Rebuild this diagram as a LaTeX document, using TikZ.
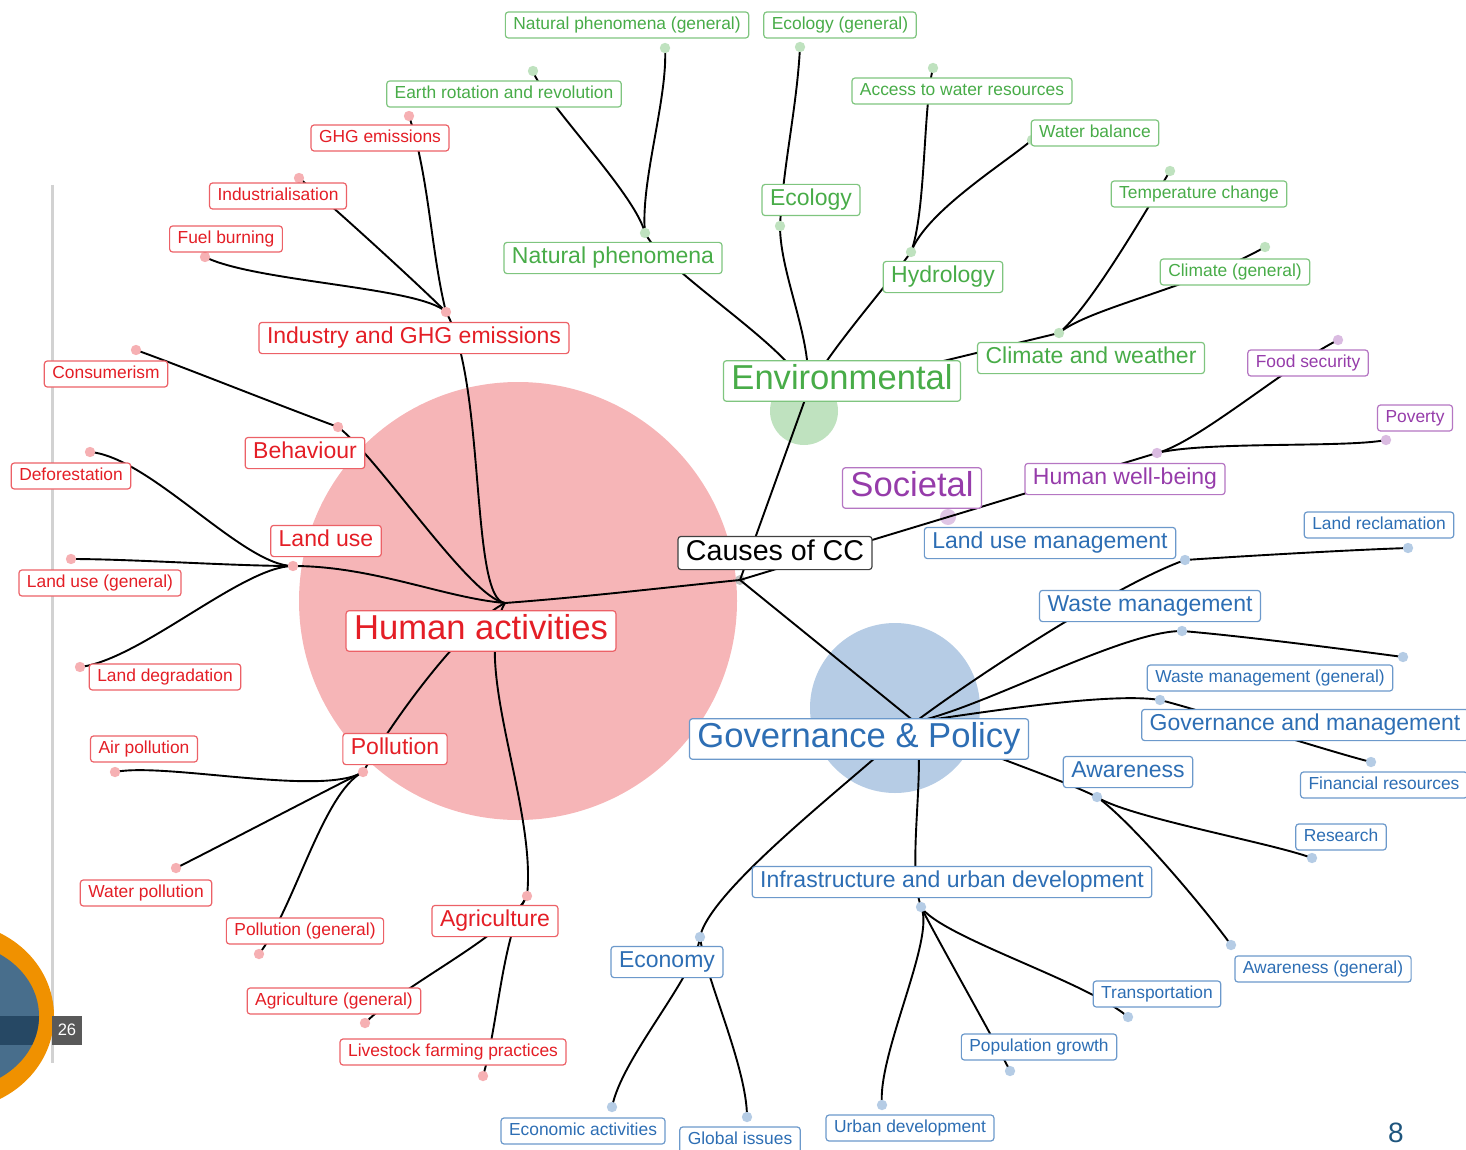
\documentclass[tikz,border=0pt]{standalone}
\usepackage{fontspec}
\setmainfont{Liberation Sans}
\usetikzlibrary{positioning}

\definecolor{hared}{RGB}{228,30,38}
\definecolor{envgreen}{RGB}{72,172,72}
\definecolor{socpurple}{RGB}{150,60,170}
\definecolor{govblue}{RGB}{45,110,180}
\definecolor{slideorange}{RGB}{240,145,0}
\definecolor{slideblue}{RGB}{72,110,140}
\definecolor{slidedark}{RGB}{38,72,100}
\definecolor{pagenum}{RGB}{30,85,125}

\begin{document}
\begin{tikzpicture}[x=0.5pt,y=-0.5pt,
  tag/.style={draw=#1!70,text=#1,fill=white,rounded corners=1.5pt,line width=0.6pt,inner xsep=4pt},
  leaf/.style={tag=#1,font=\fontsize{8.7}{10}\selectfont,text height=6.3pt,text depth=1.9pt,inner ysep=2.4pt},
  branch/.style={tag=#1,font=\fontsize{11.5}{13}\selectfont,text height=8.3pt,text depth=2.5pt,inner ysep=2.4pt},
  theme/.style={tag=#1,font=\fontsize{17.3}{20}\selectfont,text height=12.5pt,text depth=3.8pt,inner ysep=2pt},
  link/.style={draw=black,line width=0.95pt},
  blob/.style={fill=#1!35}]
\useasboundingbox (0,0) rectangle (1466,1150);

% slide leftovers
\draw[gray!35,line width=1.5pt] (52,185) -- (52,1063);
\fill[slideorange] (-48,1016) ellipse[x radius=51pt,y radius=47pt];
\begin{scope}
  \clip (-48,1016) ellipse[x radius=43.5pt,y radius=37pt];
  \fill[slideblue] (-150,900) rectangle (60,1120);
  \fill[slidedark] (-150,1016) rectangle (60,1045);
\end{scope}
\node (slideno) [fill=black!65,text=white,font=\fontsize{8.3}{10}\selectfont,minimum width=15pt,minimum height=14.5pt,inner sep=0pt] at (67,1030) {26};
\node (pageno) [text=pagenum,font=\fontsize{14}{16}\selectfont,inner sep=0pt] at (1396,1133) {8};

% points of the tree
\coordinate (root) at (740,580);
\coordinate (hadot) at (505,603);
\coordinate (inddot) at (446,312);
\coordinate (ghgdot) at (409,116);
\coordinate (indzdot) at (299,178);
\coordinate (fueldot) at (205,257);
\coordinate (behdot) at (338,427);
\coordinate (consdot) at (136,350);
\coordinate (ludot) at (293,566);
\coordinate (defdot) at (90,452);
\coordinate (lugdot) at (71,559);
\coordinate (lddot) at (80,667);
\coordinate (poldot) at (363,772);
\coordinate (airdot) at (115,772);
\coordinate (waterdot) at (176,868);
\coordinate (polgdot) at (259,954);
\coordinate (agrdot) at (527,896);
\coordinate (agrgdot) at (365,1023);
\coordinate (livedot) at (483,1076);
\coordinate (envdot) at (807,394);
\coordinate (npdot) at (645,233);
\coordinate (earthdot) at (533,71);
\coordinate (npgdot) at (665,48);
\coordinate (ecodot) at (780,226);
\coordinate (ecogdot) at (800,47);
\coordinate (hyddot) at (911,252);
\coordinate (accdot) at (933,68);
\coordinate (wbdot) at (1032,140);
\coordinate (cwdot) at (1059,333);
\coordinate (tempdot) at (1170,171);
\coordinate (climgdot) at (1265,247);
\coordinate (socdot) at (948,517);
\coordinate (hwbdot) at (1157,453);
\coordinate (fooddot) at (1338,340);
\coordinate (povdot) at (1386,440);
\coordinate (govdot) at (915,722);
\coordinate (lumdot) at (1185,560);
\coordinate (lrdot) at (1408,548);
\coordinate (wmdot) at (1182,631);
\coordinate (wmgdot) at (1403,657);
\coordinate (gmdot) at (1160,700);
\coordinate (findot) at (1371,762);
\coordinate (awdot) at (1097,797);
\coordinate (resdot) at (1312,858);
\coordinate (awgdot) at (1231,945);
\coordinate (infdot) at (921,907);
\coordinate (trdot) at (1128,1017);
\coordinate (pgdot) at (1010,1071);
\coordinate (uddot) at (882,1105);
\coordinate (econdot) at (700,937);
\coordinate (eadot) at (612,1107);
\coordinate (gidot) at (747,1117);

% big circles
\fill[hared!33] (518,601) circle[radius=109.5pt];
\fill[envgreen!35] (804,411) circle[radius=17pt];
\fill[govblue!35] (895,708) circle[radius=42.5pt];
\fill[socpurple!30] (socdot) circle[radius=4pt];
\fill[black!25] (root) circle[radius=2.5pt];

% links
\draw[link] (root) -- (envdot);
\draw[link] (root) -- (socdot);
\draw[link] (root) -- (govdot);
\draw[link] (root) .. controls +(-80,8) and +(80,-6) .. (hadot);

\draw[link] (hadot) .. controls +(-35,-3) and +(40,70) .. (inddot);
\draw[link] (inddot) .. controls +(-15,-60) and +(20,60) .. (ghgdot);
\draw[link] (inddot) .. controls +(-30,-30) and +(30,25) .. (indzdot);
\draw[link] (inddot) .. controls +(-25,-25) and +(50,25) .. (fueldot);
\draw[link] (hadot) .. controls +(-35,-5) and +(40,30) .. (behdot);
\draw[link] (behdot) .. controls +(-60,-22) and +(50,18) .. (consdot);
\draw[link] (hadot) .. controls +(-60,-5) and +(80,0) .. (ludot);
\draw[link] (ludot) .. controls +(-50,0) and +(60,5) .. (defdot);
\draw[link] (ludot) .. controls +(-60,0) and +(60,0) .. (lugdot);
\draw[link] (ludot) .. controls +(-50,0) and +(60,-7) .. (lddot);
\draw[link] (hadot) .. controls +(-40,20) and +(35,-60) .. (poldot);
\draw[link] (poldot) .. controls +(-40,25) and +(50,-10) .. (airdot);
\draw[link] (poldot) .. controls +(-40,20) and +(40,-20) .. (waterdot);
\draw[link] (poldot) .. controls +(-40,20) and +(35,-45) .. (polgdot);
\draw[link] (hadot) .. controls +(-35,60) and +(10,-90) .. (agrdot);
\draw[link] (agrdot) .. controls +(-20,40) and +(40,-40) .. (agrgdot);
\draw[link] (agrdot) .. controls +(-25,40) and +(15,-50) .. (livedot);

\draw[link] (envdot) .. controls +(-5,-40) and +(20,40) .. (npdot);
\draw[link] (npdot) .. controls +(-10,-40) and +(10,30) .. (earthdot);
\draw[link] (npdot) .. controls +(-5,-50) and +(3,50) .. (npgdot);
\draw[link] (envdot) .. controls +(8,-50) and +(0,50) .. (ecodot);
\draw[link] (ecodot) .. controls +(3,-60) and +(-3,60) .. (ecogdot);
\draw[link] (envdot) .. controls +(15,-35) and +(-25,35) .. (hyddot);
\draw[link] (hyddot) .. controls +(15,-40) and +(-10,40) .. (accdot);
\draw[link] (hyddot) .. controls +(15,-40) and +(-30,25) .. (wbdot);
\draw[link] (envdot) -- (cwdot);
\draw[link] (cwdot) .. controls +(30,-25) and +(-30,50) .. (tempdot);
\draw[link] (cwdot) .. controls +(30,-25) and +(-70,40) .. (climgdot);

\draw[link] (socdot) .. controls +(50,-15) and +(-50,15) .. (hwbdot);
\draw[link] (hwbdot) .. controls +(40,-10) and +(-50,25) .. (fooddot);
\draw[link] (hwbdot) .. controls +(50,-12) and +(-40,8) .. (povdot);

\draw[link] (govdot) .. controls +(60,-45) and +(-70,25) .. (lumdot);
\draw[link] (lumdot) .. controls +(60,-4) and +(-60,2) .. (lrdot);
\draw[link] (govdot) .. controls +(70,-15) and +(-60,0) .. (wmdot);
\draw[link] (wmdot) .. controls +(60,5) and +(-60,-8) .. (wmgdot);
\draw[link] (govdot) .. controls +(70,-10) and +(-50,-8) .. (gmdot);
\draw[link] (gmdot) .. controls +(40,10) and +(-40,-10) .. (findot);
\draw[link] (govdot) .. controls +(60,30) and +(-40,-20) .. (awdot);
\draw[link] (awdot) .. controls +(30,20) and +(-40,-15) .. (resdot);
\draw[link] (awdot) .. controls +(35,25) and +(-25,-35) .. (awgdot);
\draw[link] (govdot) .. controls +(12,45) and +(-15,-45) .. (infdot);
\draw[link] (infdot) .. controls +(20,30) and +(-40,-35) .. (trdot);
\draw[link] (infdot) .. controls +(15,30) and +(-15,-30) .. (pgdot);
\draw[link] (infdot) .. controls +(15,30) and +(-5,-50) .. (uddot);
\draw[link] (govdot) .. controls +(-45,45) and +(10,-50) .. (econdot);
\draw[link] (econdot) .. controls +(-5,40) and +(10,-50) .. (eadot);
\draw[link] (econdot) .. controls +(5,40) and +(0,-50) .. (gidot);

% dots
\foreach \p in {inddot,ghgdot,indzdot,fueldot,behdot,consdot,ludot,defdot,lugdot,lddot,poldot,airdot,waterdot,polgdot,agrdot,agrgdot,livedot}
  \fill[blob=hared] (\p) circle[radius=2.6pt];
\foreach \p in {npdot,earthdot,npgdot,ecodot,ecogdot,hyddot,accdot,wbdot,cwdot,tempdot,climgdot}
  \fill[blob=envgreen] (\p) circle[radius=2.6pt];
\foreach \p in {hwbdot,fooddot,povdot}
  \fill[blob=socpurple] (\p) circle[radius=2.6pt];
\foreach \p in {lumdot,lrdot,wmdot,wmgdot,gmdot,findot,awdot,resdot,awgdot,infdot,trdot,pgdot,uddot,econdot,eadot,gidot}
  \fill[blob=govblue] (\p) circle[radius=2.6pt];

% labels
\node (causes) [tag=black,draw=black!75,font=\fontsize{14.3}{17}\selectfont,text height=10.3pt,text depth=3.1pt,inner ysep=1.6pt] at (775,553) {Causes of CC};

\node (humanact) [theme=hared] at (481,631) {Human activities};
\node (industry) [branch=hared] at (414,338) {Industry and GHG emissions};
\node (ghg) [leaf=hared] at (380,138) {GHG emissions};
\node (industrial) [leaf=hared] at (278,196) {Industrialisation};
\node (fuel) [leaf=hared] at (226,239) {Fuel burning};
\node (behaviour) [branch=hared] at (305,453) {Behaviour};
\node (consum) [leaf=hared] at (106,374) {Consumerism};
\node (landuse) [branch=hared] at (326,541) {Land use};
\node (defor) [leaf=hared] at (71,476) {Deforestation};
\node (lugen) [leaf=hared] at (100,583) {Land use (general)};
\node (landdeg) [leaf=hared] at (165,677) {Land degradation};
\node (pollution) [branch=hared] at (395,749) {Pollution};
\node (airpol) [leaf=hared] at (144,749) {Air pollution};
\node (waterpol) [leaf=hared] at (146,893) {Water pollution};
\node (polgen) [leaf=hared] at (305,931) {Pollution (general)};
\node (agri) [branch=hared] at (495,921) {Agriculture};
\node (agrigen) [leaf=hared] at (334,1001) {Agriculture (general)};
\node (livestock) [leaf=hared] at (453,1052) {Livestock farming practices};

\node (environ) [theme=envgreen] at (842,381) {Environmental};
\node (natphen) [branch=envgreen] at (613,258) {Natural phenomena};
\node (earthrot) [leaf=envgreen] at (504,94) {Earth rotation and revolution};
\node (natgen) [leaf=envgreen] at (627,25) {Natural phenomena (general)};
\node (ecology) [branch=envgreen] at (811,200) {Ecology};
\node (ecogen) [leaf=envgreen] at (840,25) {Ecology (general)};
\node (hydro) [branch=envgreen] at (943,277) {Hydrology};
\node (access) [leaf=envgreen] at (962,91) {Access to water resources};
\node (waterbal) [leaf=envgreen] at (1095,133) {Water balance};
\node (climate) [branch=envgreen] at (1091,358) {Climate and weather};
\node (tempch) [leaf=envgreen] at (1199,194) {Temperature change};
\node (climgen) [leaf=envgreen] at (1235,272) {Climate (general)};

\node (societal) [theme=socpurple] at (912,488) {Societal};
\node (wellbeing) [branch=socpurple] at (1125,479) {Human well-being};
\node (food) [leaf=socpurple] at (1308,363) {Food security};
\node (poverty) [leaf=socpurple] at (1415,418) {Poverty};

\node (govpol) [theme=govblue] at (859,739) {Governance \& Policy};
\node (lumgmt) [branch=govblue] at (1050,543) {Land use management};
\node (landrec) [leaf=govblue] at (1379,525) {Land reclamation};
\node (wastemg) [branch=govblue] at (1150,606) {Waste management};
\node (wastegen) [leaf=govblue] at (1270,678) {Waste management (general)};
\node (govmgmt) [branch=govblue] at (1305,725) {Governance and management};
\node (finres) [leaf=govblue] at (1384,785) {Financial resources};
\node (aware) [branch=govblue] at (1128,772) {Awareness};
\node (research) [leaf=govblue] at (1341,837) {Research};
\node (awaregen) [leaf=govblue] at (1323,969) {Awareness (general)};
\node (infra) [branch=govblue] at (952,882) {Infrastructure and urban development};
\node (transport) [leaf=govblue] at (1157,994) {Transportation};
\node (popgrowth) [leaf=govblue] at (1039,1047) {Population growth};
\node (urbandev) [leaf=govblue] at (910,1128) {Urban development};
\node (economy) [branch=govblue] at (667,962) {Economy};
\node (ecoact) [leaf=govblue] at (583,1131) {Economic activities};
\node (global) [leaf=govblue] at (740,1140) {Global issues};
\end{tikzpicture}
\end{document}
